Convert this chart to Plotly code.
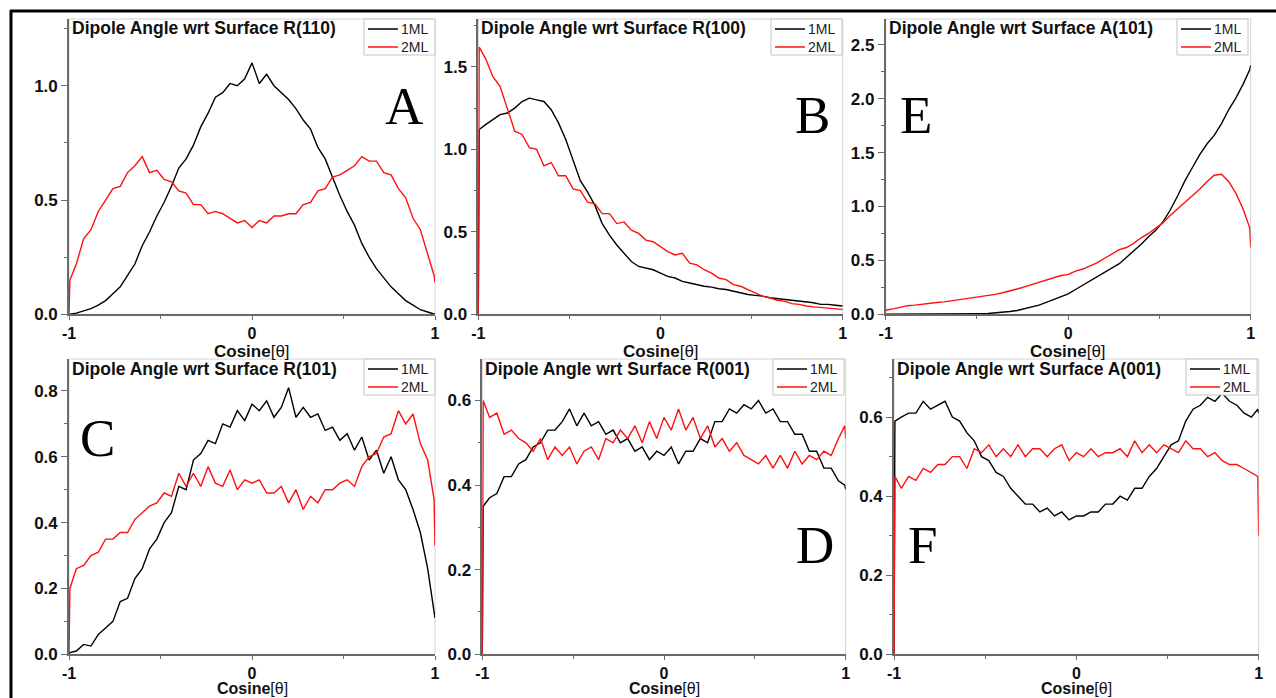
import plotly.graph_objects as go

# ---------------- data ----------------
COS = [-1.0, -0.995, -0.96, -0.92, -0.88, -0.84, -0.80, -0.76, -0.72, -0.68, -0.64,
       -0.60, -0.56, -0.52, -0.48, -0.44, -0.40, -0.36, -0.32, -0.28, -0.24, -0.20,
       -0.16, -0.12, -0.08, -0.04, 0.00, 0.04, 0.08, 0.12, 0.16, 0.20, 0.24, 0.28,
       0.32, 0.36, 0.40, 0.44, 0.48, 0.52, 0.56, 0.60, 0.64, 0.68, 0.72, 0.76, 0.80,
       0.84, 0.88, 0.92, 0.96, 0.995, 1.0]

SERIES_NAMES = ["1ML", "2ML"]

A_1ML = [0.0, 0.0, 0.005, 0.015, 0.025, 0.04, 0.06, 0.09, 0.12, 0.17, 0.22, 0.30, 0.36,
         0.43, 0.49, 0.56, 0.64, 0.68, 0.74, 0.82, 0.88, 0.95, 0.97, 1.01, 1.00, 1.03,
         1.10, 1.01, 1.05, 1.00, 0.97, 0.94, 0.90, 0.85, 0.81, 0.73, 0.68, 0.60, 0.52,
         0.45, 0.39, 0.31, 0.25, 0.20, 0.16, 0.12, 0.09, 0.06, 0.04, 0.02, 0.01, 0.003, 0.0]
A_2ML = [0.0, 0.15, 0.22, 0.33, 0.37, 0.45, 0.50, 0.55, 0.56, 0.62, 0.65, 0.69, 0.62,
         0.63, 0.59, 0.58, 0.54, 0.53, 0.48, 0.48, 0.44, 0.45, 0.44, 0.42, 0.40, 0.41,
         0.38, 0.41, 0.40, 0.43, 0.43, 0.44, 0.44, 0.48, 0.49, 0.54, 0.55, 0.60, 0.61,
         0.63, 0.65, 0.69, 0.67, 0.67, 0.62, 0.61, 0.55, 0.51, 0.42, 0.37, 0.26, 0.17, 0.14]

B_1ML = [0.0, 1.12, 1.15, 1.18, 1.21, 1.22, 1.25, 1.29, 1.31, 1.30, 1.29, 1.24, 1.16,
         1.06, 0.93, 0.81, 0.74, 0.66, 0.55, 0.48, 0.42, 0.37, 0.32, 0.29, 0.28, 0.27,
         0.25, 0.23, 0.22, 0.20, 0.19, 0.18, 0.17, 0.165, 0.155, 0.15, 0.14, 0.13, 0.12,
         0.115, 0.11, 0.10, 0.095, 0.09, 0.085, 0.08, 0.075, 0.07, 0.06, 0.06, 0.055, 0.05, 0.05]
B_2ML = [0.0, 1.62, 1.55, 1.44, 1.38, 1.24, 1.11, 1.09, 1.01, 1.00, 0.90, 0.92, 0.84,
         0.84, 0.76, 0.75, 0.68, 0.67, 0.61, 0.61, 0.55, 0.56, 0.51, 0.49, 0.45, 0.44,
         0.41, 0.38, 0.36, 0.37, 0.31, 0.30, 0.27, 0.25, 0.22, 0.21, 0.18, 0.17, 0.15,
         0.13, 0.11, 0.10, 0.085, 0.08, 0.065, 0.06, 0.05, 0.045, 0.04, 0.035, 0.03, 0.03, 0.03]

E_1ML = [0.0, 0.0, 0.0, 0.0, 0.0, 0.0, 0.0, 0.0, 0.0, 0.0, 0.001, 0.002, 0.003, 0.004,
         0.006, 0.008, 0.012, 0.018, 0.026, 0.035, 0.05, 0.065, 0.085, 0.11, 0.135, 0.16,
         0.19, 0.23, 0.27, 0.31, 0.35, 0.39, 0.43, 0.47, 0.53, 0.59, 0.65, 0.72, 0.78,
         0.86, 0.97, 1.10, 1.24, 1.36, 1.48, 1.58, 1.66, 1.77, 1.90, 2.01, 2.14, 2.27, 2.31]
E_2ML = [0.03, 0.04, 0.05, 0.065, 0.08, 0.085, 0.095, 0.10, 0.11, 0.115, 0.125, 0.13,
         0.14, 0.15, 0.16, 0.175, 0.185, 0.20, 0.215, 0.235, 0.255, 0.275, 0.295, 0.315,
         0.34, 0.36, 0.37, 0.40, 0.42, 0.45, 0.48, 0.52, 0.56, 0.60, 0.62, 0.66, 0.71,
         0.75, 0.80, 0.85, 0.92, 0.98, 1.04, 1.10, 1.16, 1.23, 1.29, 1.30, 1.23, 1.12,
         0.97, 0.80, 0.62]

C_1ML = [0.0, 0.005, 0.01, 0.03, 0.025, 0.06, 0.08, 0.10, 0.16, 0.17, 0.23, 0.26, 0.32,
         0.35, 0.40, 0.43, 0.51, 0.50, 0.59, 0.61, 0.65, 0.64, 0.70, 0.69, 0.74, 0.71,
         0.76, 0.74, 0.77, 0.72, 0.75, 0.81, 0.72, 0.75, 0.72, 0.73, 0.68, 0.69, 0.65,
         0.67, 0.62, 0.66, 0.59, 0.62, 0.55, 0.60, 0.53, 0.50, 0.44, 0.37, 0.26, 0.13, 0.11]
C_2ML = [0.0, 0.20, 0.26, 0.27, 0.30, 0.31, 0.35, 0.35, 0.37, 0.37, 0.41, 0.43, 0.45,
         0.46, 0.49, 0.48, 0.55, 0.51, 0.55, 0.51, 0.57, 0.52, 0.51, 0.56, 0.50, 0.53,
         0.52, 0.53, 0.49, 0.49, 0.51, 0.46, 0.50, 0.44, 0.48, 0.46, 0.50, 0.50, 0.52,
         0.53, 0.51, 0.57, 0.60, 0.61, 0.66, 0.67, 0.74, 0.70, 0.73, 0.64, 0.59, 0.47, 0.33]

D_1ML = [0.0, 0.35, 0.37, 0.38, 0.42, 0.42, 0.45, 0.46, 0.49, 0.50, 0.53, 0.53, 0.55,
         0.58, 0.54, 0.57, 0.54, 0.55, 0.52, 0.53, 0.50, 0.51, 0.48, 0.49, 0.46, 0.48,
         0.47, 0.49, 0.45, 0.48, 0.48, 0.51, 0.50, 0.55, 0.55, 0.58, 0.57, 0.59, 0.58,
         0.60, 0.57, 0.58, 0.55, 0.55, 0.52, 0.52, 0.48, 0.48, 0.44, 0.44, 0.41, 0.40, 0.39]
D_2ML = [0.0, 0.60, 0.56, 0.57, 0.52, 0.53, 0.51, 0.50, 0.48, 0.51, 0.46, 0.49, 0.47,
         0.49, 0.45, 0.48, 0.49, 0.46, 0.51, 0.50, 0.53, 0.51, 0.54, 0.50, 0.55, 0.51,
         0.56, 0.53, 0.58, 0.53, 0.56, 0.51, 0.54, 0.49, 0.51, 0.48, 0.50, 0.47, 0.46,
         0.45, 0.47, 0.44, 0.47, 0.44, 0.48, 0.45, 0.47, 0.46, 0.48, 0.47, 0.51, 0.54, 0.51]

F_1ML = [0.0, 0.59, 0.60, 0.61, 0.61, 0.64, 0.62, 0.63, 0.64, 0.60, 0.59, 0.56, 0.54,
         0.50, 0.49, 0.46, 0.45, 0.42, 0.40, 0.38, 0.38, 0.36, 0.37, 0.35, 0.36, 0.34,
         0.35, 0.35, 0.36, 0.36, 0.38, 0.38, 0.40, 0.39, 0.42, 0.42, 0.45, 0.47, 0.50,
         0.53, 0.54, 0.59, 0.62, 0.63, 0.65, 0.64, 0.66, 0.64, 0.63, 0.61, 0.60, 0.62, 0.61]
F_2ML = [0.0, 0.45, 0.42, 0.45, 0.44, 0.47, 0.46, 0.48, 0.48, 0.50, 0.50, 0.47, 0.52,
         0.51, 0.53, 0.50, 0.52, 0.50, 0.53, 0.50, 0.52, 0.52, 0.50, 0.52, 0.53, 0.49,
         0.51, 0.50, 0.52, 0.50, 0.51, 0.51, 0.52, 0.50, 0.54, 0.51, 0.53, 0.51, 0.53,
         0.52, 0.51, 0.54, 0.52, 0.52, 0.50, 0.51, 0.49, 0.48, 0.48, 0.47, 0.46, 0.45, 0.30]

TITLES = ["Dipole Angle wrt Surface R(110)", "Dipole Angle wrt Surface R(100)",
          "Dipole Angle wrt Surface A(101)", "Dipole Angle wrt Surface R(101)",
          "Dipole Angle wrt Surface R(001)", "Dipole Angle wrt Surface A(001)"]
LETTERS = ["A", "B", "E", "C", "D", "F"]
X_TICKS = [-1, 0, 1]
X_TICK_TEXT = ["-1", "0", "1"]
X_TITLE = "<b>Cosine</b>[θ]"

# ---------------- layout geometry ----------------
W, H = 1276, 698
def fx(p):
    return p / W
def fy(p):
    return 1 - p / H

# (x0, x1, ytop, ybottom) in px, y max, major dtick, letter centre, legend right/top
GEOM = [
    ((69, 435, 19, 314.3), 1.292, 0.5, (404.5, 106.5), (435, 19)),
    ((478.3, 842.7, 19, 314.3), 1.79, 0.5, (812.5, 115), (842, 19)),
    ((885.7, 1250.7, 19, 314.3), 2.74, 0.5, (915.5, 115), (1248, 19)),
    ((69, 435, 359, 654.3), 0.897, 0.2, (97.5, 438), (435, 359)),
    ((482.3, 845.7, 359, 654.3), 0.698, 0.2, (815, 545), (844, 359)),
    ((894, 1258.7, 359, 654.3), 0.747, 0.2, (922, 545), (1257, 359)),
]
DATA = [(A_1ML, A_2ML), (B_1ML, B_2ML), (E_1ML, E_2ML),
        (C_1ML, C_2ML), (D_1ML, D_2ML), (F_1ML, F_2ML)]

SANS = "Liberation Sans, Arial, sans-serif"
AX = "#6a6a6a"
YTICKFONT = dict(family=SANS, size=17, color="#111", weight="bold")
XTICKFONT = dict(family=SANS, size=16, color="#111", weight="bold")
COLORS = ["#000000", "#ff1010"]

fig = go.Figure()
layout = dict(
    template="none",
    width=W, height=H, margin=dict(l=0, r=0, t=0, b=0, pad=0, autoexpand=False),
    paper_bgcolor="white", plot_bgcolor="white", showlegend=False,
    shapes=[], annotations=[],
)

for i, (title, letter, (s1, s2), (box, ymax, dt, lpos, lg)) in enumerate(
        zip(TITLES, LETTERS, DATA, GEOM)):
    n = i + 1
    sfx = "" if n == 1 else str(n)
    xa, ya = "x" + sfx, "y" + sfx
    x0, x1, yt, yb = box
    bottom_row = yb > 400
    for name, ser, col in zip(SERIES_NAMES, (s1, s2), COLORS):
        fig.add_trace(go.Scatter(
            x=COS, y=ser, mode="lines", name=name,
            line=dict(color=col, width=1.4),
            xaxis=xa, yaxis=ya, showlegend=False,
        ))
    layout["xaxis" + sfx] = dict(
        domain=[fx(x0), fx(x1)], range=[-1, 1], anchor=ya, automargin=False,
        showline=True, linecolor=AX, linewidth=1.6,
        ticks="outside", ticklen=4, tickwidth=1.4, tickcolor=AX,
        tickmode="array", tickvals=X_TICKS, ticktext=X_TICK_TEXT,
        tickfont=XTICKFONT, showgrid=False, zeroline=False,
        minor=dict(tickvals=[-0.5, 0.5], ticks="outside", ticklen=3,
                   tickwidth=1.2, tickcolor=AX, showgrid=False),
    )
    layout["yaxis" + sfx] = dict(
        domain=[fy(yb), fy(yt)], range=[0, ymax], anchor=xa, automargin=False,
        showline=True, linecolor=AX, linewidth=1.6,
        ticks="outside", ticklen=6, tickwidth=1.4, tickcolor=AX,
        tick0=0, dtick=dt, tickformat=".1f",
        tickfont=YTICKFONT, showgrid=False, zeroline=False,
        minor=dict(tick0=0, dtick=dt / 2, ticks="outside", ticklen=3,
                   tickwidth=1.2, tickcolor=AX, showgrid=False),
    )
    # light frame (top / right edges)
    layout["shapes"].append(dict(
        type="rect", xref=xa + " domain", yref=ya + " domain",
        x0=0, x1=1, y0=0, y1=1, line=dict(color="#d4d4d4", width=1),
        layer="below"))
    # panel title
    layout["annotations"].append(dict(
        text=title, xref="paper", yref="paper", x=fx(x0 + 1), y=fy(yt + 9.5),
        xanchor="left", yanchor="middle", showarrow=False,
        font=dict(family=SANS, size=17.5, color="#111", weight="bold")))
    # big letter
    layout["annotations"].append(dict(
        text=letter, xref="paper", yref="paper", x=fx(lpos[0]), y=fy(lpos[1]),
        xanchor="center", yanchor="middle", showarrow=False,
        font=dict(family="Liberation Serif, Times New Roman, serif", size=53, color="#000")))
    # x-axis title
    if not bottom_row:
        ty, tanchor, tsize = fy(yb + 37.5), "middle", 17
    else:
        ty, tanchor, tsize = fy(698), "bottom", 16
    layout["annotations"].append(dict(
        text=X_TITLE, xref="paper", yref="paper", x=fx((x0 + x1) / 2),
        y=ty, xanchor="center", yanchor=tanchor, showarrow=False, borderpad=0,
        font=dict(family=SANS, size=tsize, color="#111")))
    # legend box with sample lines and labels
    lr, lt = lg
    layout["shapes"].append(dict(
        type="rect", xref="paper", yref="paper",
        x0=fx(lr - 71), x1=fx(lr), y0=fy(lt + 36), y1=fy(lt),
        line=dict(color="#c4c4c4", width=1), fillcolor="white", layer="above"))
    for k, (name, col) in enumerate(zip(SERIES_NAMES, COLORS)):
        yy = lt + 10 + 18 * k
        layout["shapes"].append(dict(
            type="line", xref="paper", yref="paper",
            x0=fx(lr - 67), x1=fx(lr - 37), y0=fy(yy), y1=fy(yy),
            line=dict(color=col, width=1.5), layer="above"))
        layout["annotations"].append(dict(
            text=name, xref="paper", yref="paper", x=fx(lr - 36), y=fy(yy),
            xanchor="left", yanchor="middle", showarrow=False,
            font=dict(family=SANS, size=14, color="#222")))

# outer frame (top and left thick black lines)
layout["shapes"].append(dict(type="line", xref="paper", yref="paper",
                             x0=fx(10), x1=1, y0=fy(11), y1=fy(11),
                             line=dict(color="black", width=3)))
layout["shapes"].append(dict(type="line", xref="paper", yref="paper",
                             x0=fx(11), x1=fx(11), y0=fy(10), y1=0,
                             line=dict(color="black", width=3)))

fig.update_layout(**layout)
fig.write_html("out.html", config={"displayModeBar": False},
               post_script="document.body.style.margin='0';document.body.style.overflow='hidden';")
